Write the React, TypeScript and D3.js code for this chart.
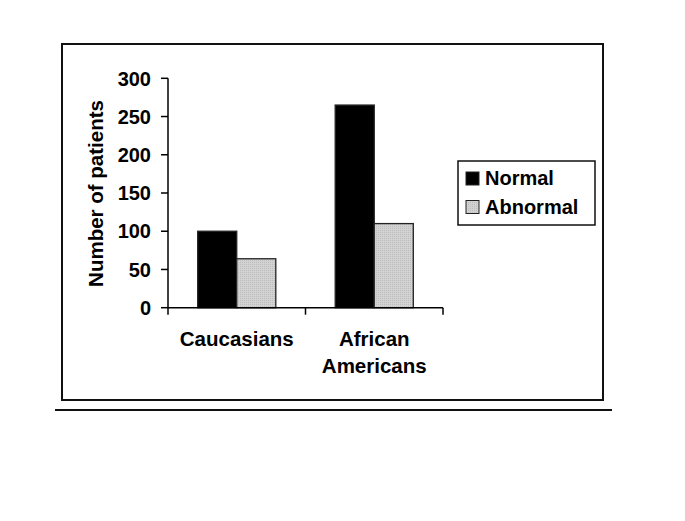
import React from "react";
import * as d3 from "d3";

const categories: string[][] = [["Caucasians"], ["African", "Americans"]];
const seriesNames = ["Normal", "Abnormal"];
const normalValues = [100, 265];
const abnormalValues = [64, 110];
const yTicks = [0, 50, 100, 150, 200, 250, 300];

const W = 685;
const H = 521;
const FONT = "'Liberation Sans', Arial, Helvetica, sans-serif";

export default function App() {
  const x0 = 168;
  const x1 = 443;
  const yBottom = 307.7;
  const yTop = 78.3;
  const xScale = d3
    .scaleBand<number>()
    .domain(categories.map((_, i) => i))
    .range([x0, x1])
    .paddingInner(0.432)
    .paddingOuter(0.216);
  const inner = d3
    .scaleBand<number>()
    .domain([0, 1])
    .range([0, xScale.bandwidth()]);
  const y = d3.scaleLinear().domain([0, 300]).range([yBottom, yTop]);
  const series = [normalValues, abnormalValues];
  const fills = ["#000000", "url(#dots)"];
  const step = (x1 - x0) / categories.length;

  return (
    <svg
      width={W}
      height={H}
      style={{ position: "absolute", left: 0, top: 0, background: "#fff" }}
    >
      <defs>
        <pattern id="dots" width="2" height="2" patternUnits="userSpaceOnUse">
          <rect width="2" height="2" fill="#d2d2d2" />
          <rect width="1" height="1" fill="#bdbdbd" />
        </pattern>
      </defs>
      <rect x={0} y={0} width={W} height={H} fill="#fff" />
      {/* frame */}
      <rect x={62} y={44} width={541} height={356} fill="none" stroke="#111" strokeWidth={2} />
      <line x1={55} x2={612} y1={410} y2={410} stroke="#111" strokeWidth={2} />

      {/* bars */}
      {series.map((vals, s) =>
        vals.map((v, i) => (
          <rect
            key={`${s}-${i}`}
            x={(xScale(i) as number) + (inner(s) as number)}
            y={y(v)}
            width={inner.bandwidth()}
            height={yBottom - y(v)}
            fill={fills[s]}
            stroke="#222"
            strokeWidth={1.3}
          />
        ))
      )}

      {/* y axis */}
      <line x1={x0} x2={x0} y1={yTop} y2={yBottom} stroke="#000" strokeWidth={1.5} />
      {yTicks.map((t) => (
        <g key={t}>
          <line x1={x0 - 7} x2={x0} y1={y(t)} y2={y(t)} stroke="#000" strokeWidth={1.5} />
          <text
            x={x0 - 17}
            y={y(t)}
            dy="0.36em"
            textAnchor="end"
            fontFamily={FONT}
            fontWeight="bold"
            fontSize={20}
          >
            {t}
          </text>
        </g>
      ))}
      {/* x axis */}
      <line x1={x0} x2={x1} y1={yBottom} y2={yBottom} stroke="#000" strokeWidth={1.5} />
      {d3.range(categories.length + 1).map((i) => (
        <line
          key={i}
          x1={x0 + i * step}
          x2={x0 + i * step}
          y1={yBottom}
          y2={yBottom + 7}
          stroke="#000"
          strokeWidth={1.5}
        />
      ))}
      {categories.map((lines, i) => (
        <text
          key={i}
          textAnchor="middle"
          fontFamily={FONT}
          fontWeight="bold"
          fontSize={20.5}
        >
          {lines.map((l, j) => (
            <tspan key={j} x={x0 + (i + 0.5) * step} y={346 + j * 27}>
              {l}
            </tspan>
          ))}
        </text>
      ))}
      <text
        transform={`translate(102.5,193.5) rotate(-90)`}
        textAnchor="middle"
        fontFamily={FONT}
        fontWeight="bold"
        fontSize={20.5}
      >
        Number of patients
      </text>

      {/* legend */}
      <rect x={458} y={161} width={137} height={64} fill="#fff" stroke="#111" strokeWidth={1.5} />
      {seriesNames.map((n, i) => (
        <g key={n}>
          <rect
            x={466}
            y={172 + i * 28.5}
            width={13}
            height={13}
            fill={fills[i]}
            stroke="#222"
            strokeWidth={1}
          />
          <text
            x={485}
            y={185 + i * 28.5}
            fontFamily={FONT}
            fontWeight="bold"
            fontSize={20}
          >
            {n}
          </text>
        </g>
      ))}
    </svg>
  );
}
